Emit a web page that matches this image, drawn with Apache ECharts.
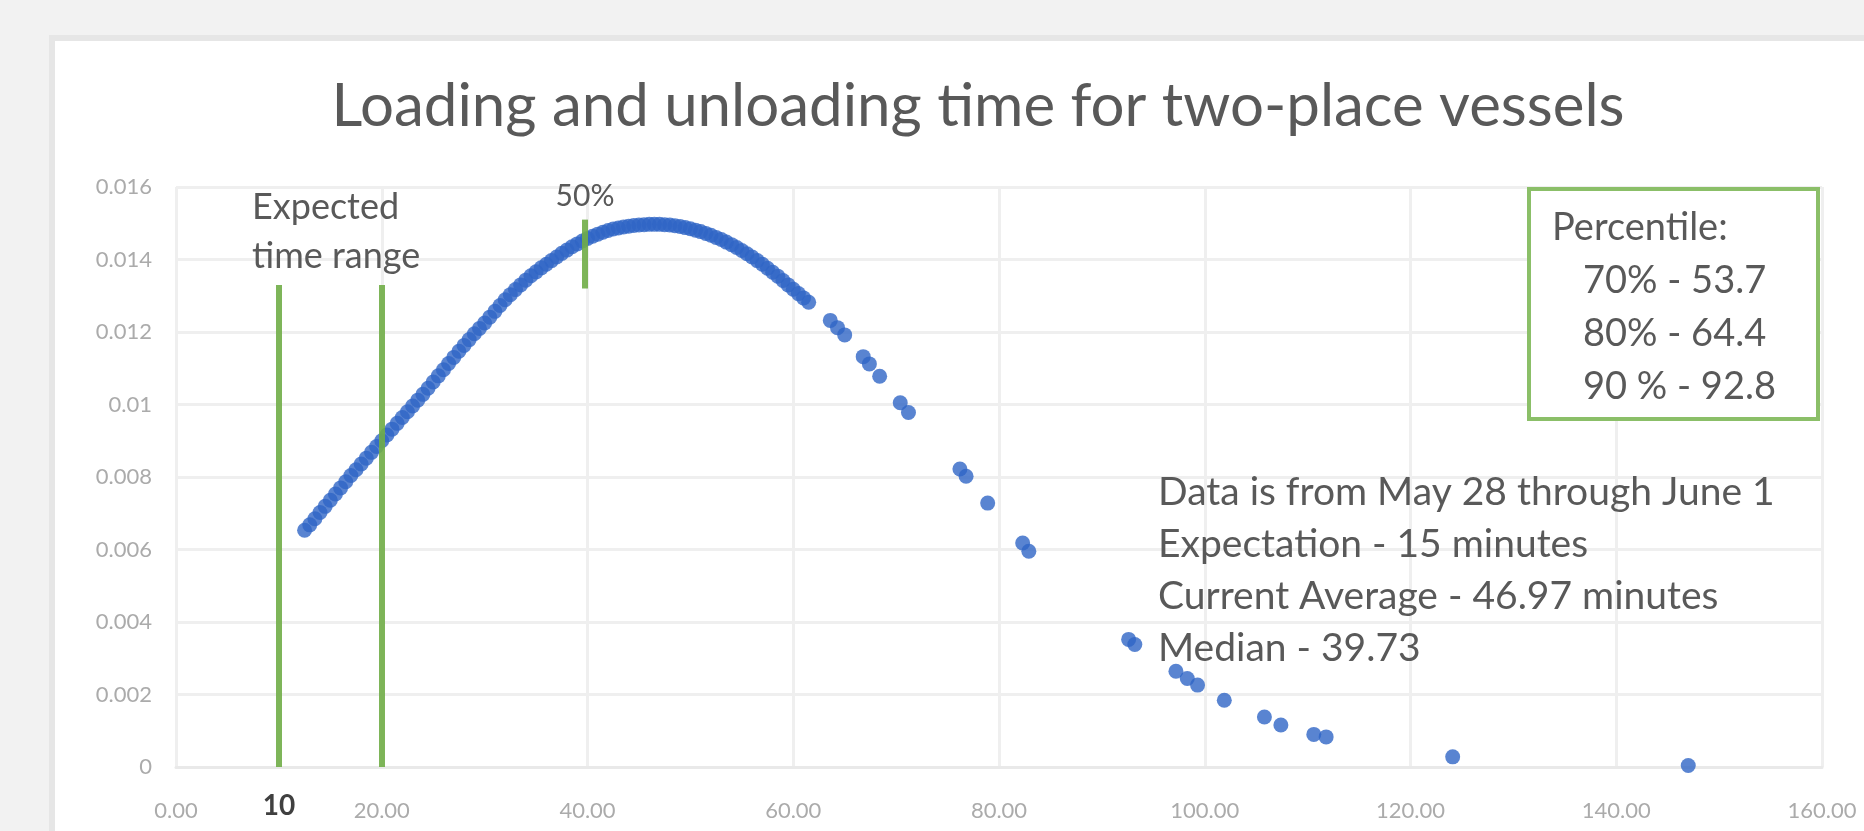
<!DOCTYPE html>
<html>
<head>
<meta charset="utf-8">
<title>Loading and unloading time for two-place vessels</title>
<script src="https://cdn.jsdelivr.net/npm/echarts@6.0.0/dist/echarts.min.js"></script>
<style>
  html, body { margin: 0; padding: 0; background: #f2f2f2; overflow: hidden; }
  #frame {
    position: absolute; left: 49px; top: 35px; width: 1900px; height: 900px;
    background: #fff; border: 6px solid #e6e6e6; box-sizing: border-box;
  }
  #main { position: absolute; left: 0; top: 0; width: 1864px; height: 831px; }
</style>
</head>
<body>
<div id="frame"></div>
<div id="main"></div>
<script>
// minutes (x) and density (y)
const minutes = [
  12.5, 13, 13.5, 14, 14.5, 15, 15.5, 16, 16.5, 17, 17.5, 18, 18.5, 19, 19.5,
  20, 20.5, 21, 21.5, 22, 22.5, 23, 23.5, 24, 24.5, 25, 25.5, 26, 26.5, 27,
  27.5, 28, 28.5, 29, 29.5, 30, 30.5, 31, 31.5, 32, 32.5, 33, 33.5, 34, 34.5,
  35, 35.5, 36, 36.5, 37, 37.5, 38, 38.5, 39, 39.5, 40, 40.5, 41, 41.5, 42,
  42.5, 43, 43.5, 44, 44.5, 45, 45.5, 46, 46.5, 47, 47.5, 48, 48.5, 49, 49.5,
  50, 50.5, 51, 51.5, 52, 52.5, 53, 53.5, 54, 54.5, 55, 55.5, 56, 56.5, 57,
  57.5, 58, 58.5, 59, 59.5, 60, 60.5, 61, 61.5,
  63.6, 64.3, 65.0, 66.8, 67.4, 68.4, 70.4, 71.2, 76.2, 76.8, 78.9, 82.3, 82.9,
  92.6, 93.2, 97.2, 98.3, 99.3, 101.9, 105.8, 107.4, 110.6, 111.8, 124.1, 147.0
];
const density = [
  0.00653, 0.00668, 0.00685, 0.00702, 0.00719, 0.00736, 0.00753, 0.00770, 0.00787, 0.00804, 0.00820, 0.00836, 0.00852, 0.00868, 0.00884,
  0.00900, 0.00916, 0.00932, 0.00948, 0.00964, 0.00980, 0.00996, 0.01012, 0.01028, 0.01045, 0.01062, 0.01079, 0.01096, 0.01113, 0.01130,
  0.01147, 0.01163, 0.01179, 0.01195, 0.01210, 0.01225, 0.01241, 0.01257, 0.01273, 0.01289, 0.01303, 0.01317, 0.01330, 0.01343, 0.01355,
  0.01366, 0.01377, 0.01387, 0.01397, 0.01407, 0.01417, 0.01426, 0.01435, 0.01443, 0.01451, 0.01458, 0.01464, 0.01470, 0.01475, 0.01480,
  0.01484, 0.01487, 0.01490, 0.01492, 0.01494, 0.01495, 0.01496, 0.01497, 0.01497, 0.01497, 0.01496, 0.01495, 0.01493, 0.01491, 0.01488,
  0.01485, 0.01481, 0.01477, 0.01472, 0.01467, 0.01461, 0.01455, 0.01448, 0.01441, 0.01433, 0.01425, 0.01416, 0.01407, 0.01397, 0.01387,
  0.01376, 0.01365, 0.01354, 0.01342, 0.01330, 0.01318, 0.01306, 0.01294, 0.01282,
  0.01232, 0.01212, 0.01192, 0.01132, 0.01112, 0.01078, 0.01005, 0.00978, 0.00822, 0.00802, 0.00728, 0.00618, 0.00595,
  0.00352, 0.00338, 0.00264, 0.00244, 0.00226, 0.00184, 0.00138, 0.00116, 0.00090, 0.00083, 0.00028, 0.00004
];

const xTickLabels = ['0.00', '20.00', '40.00', '60.00', '80.00', '100.00', '120.00', '140.00', '160.00'];
const yTickLabels = ['0', '0.002', '0.004', '0.006', '0.008', '0.01', '0.012', '0.014', '0.016'];

// reference lines
const expectedRange = [10, 20];
const expectedTop = 0.0133;
const median = 39.73;
const medianSpan = [0.0132, 0.0151];

const titleText = 'Loading and unloading time for two-place vessels';
const notes = [
  'Data is from May 28 through June 1',
  'Expectation - 15 minutes',
  'Current Average - 46.97 minutes',
  'Median - 39.73'
];
const percentiles = ['Percentile:', '70% - 53.7', '80% - 64.4', '90 % - 92.8'];

const FONT = 'Lato, "Open Sans", sans-serif';
const TXT = '#595959';

let chart = echarts.init(document.getElementById('main'));

let points = minutes.map((m, i) => [m, density[i]]);

function vline(x, y0, y1) {
  return [{ coord: [x, y0] }, { coord: [x, y1] }];
}

let graphics = [
  {
    type: 'text', x: 978, y: 107, z: 10,
    style: { text: titleText, font: '60px ' + FONT, fill: TXT, textAlign: 'center', textVerticalAlign: 'middle' }
  },
  {
    type: 'text', x: 252, y: 207, z: 10,
    style: { text: 'Expected', font: '36px ' + FONT, fill: TXT, textAlign: 'left', textVerticalAlign: 'middle' }
  },
  {
    type: 'text', x: 252, y: 256, z: 10,
    style: { text: 'time range', font: '36px ' + FONT, fill: TXT, textAlign: 'left', textVerticalAlign: 'middle' }
  },
  {
    type: 'text', x: 585, y: 196, z: 10,
    style: { text: '50%', font: '30px ' + FONT, fill: TXT, textAlign: 'center', textVerticalAlign: 'middle' }
  },
  {
    type: 'text', x: 279, y: 806, z: 10,
    style: { text: '10', font: 'bold 28px ' + FONT, fill: '#404040', textAlign: 'center', textVerticalAlign: 'middle' }
  },
  {
    type: 'rect', z: 10,
    shape: { x: 1529, y: 189, width: 289, height: 230 },
    style: { fill: '#fff', stroke: '#8bbf68', lineWidth: 4 }
  }
];

notes.forEach((t, i) => {
  graphics.push({
    type: 'text', x: 1158, y: 492 + i * 52, z: 10,
    style: { text: t, font: '39px ' + FONT, fill: TXT, textAlign: 'left', textVerticalAlign: 'middle' }
  });
});
percentiles.forEach((t, i) => {
  graphics.push({
    type: 'text', x: i === 0 ? 1552 : 1583, y: 228 + i * 53, z: 11,
    style: { text: t, font: '38px ' + FONT, fill: TXT, textAlign: 'left', textVerticalAlign: 'middle' }
  });
});

let option = {
  animation: false,
  backgroundColor: 'transparent',
  grid: { left: 176, right: 42, top: 187, bottom: 64, outerBoundsMode: 'none' },
  xAxis: {
    type: 'value', min: 0, max: 160, interval: 20,
    axisLine: { show: true, lineStyle: { color: '#e9e9e9', width: 3 } },
    axisTick: { show: false },
    splitLine: { show: true, lineStyle: { color: '#efefef', width: 3 } },
    axisLabel: {
      margin: 33, color: '#ababab', fontSize: 22, fontFamily: FONT,
      formatter: v => xTickLabels[Math.round(v / 20)]
    }
  },
  yAxis: {
    type: 'value', min: 0, max: 0.016, interval: 0.002,
    axisLine: { show: false },
    axisTick: { show: false },
    splitLine: { show: true, lineStyle: { color: '#efefef', width: 3 } },
    axisLabel: {
      margin: 24, color: '#ababab', fontSize: 22, fontFamily: FONT,
      formatter: v => yTickLabels[Math.round(v / 0.002)]
    }
  },
  graphic: graphics,
  series: [
    {
      type: 'scatter',
      data: points,
      symbol: 'circle',
      symbolSize: 15,
      itemStyle: { color: '#3065c6' },
      z: 2
    },
    {
      type: 'line',
      data: [],
      z: 3,
      markLine: {
        silent: true,
        symbol: ['none', 'none'],
        label: { show: false },
        lineStyle: { color: '#70ad47', width: 6, type: 'solid', opacity: 0.9 },
        data: [
          vline(expectedRange[0], 0, expectedTop),
          vline(expectedRange[1], 0, expectedTop),
          vline(median, medianSpan[0], medianSpan[1])
        ]
      }
    }
  ]
};

option && chart.setOption(option);
</script>
</body>
</html>
